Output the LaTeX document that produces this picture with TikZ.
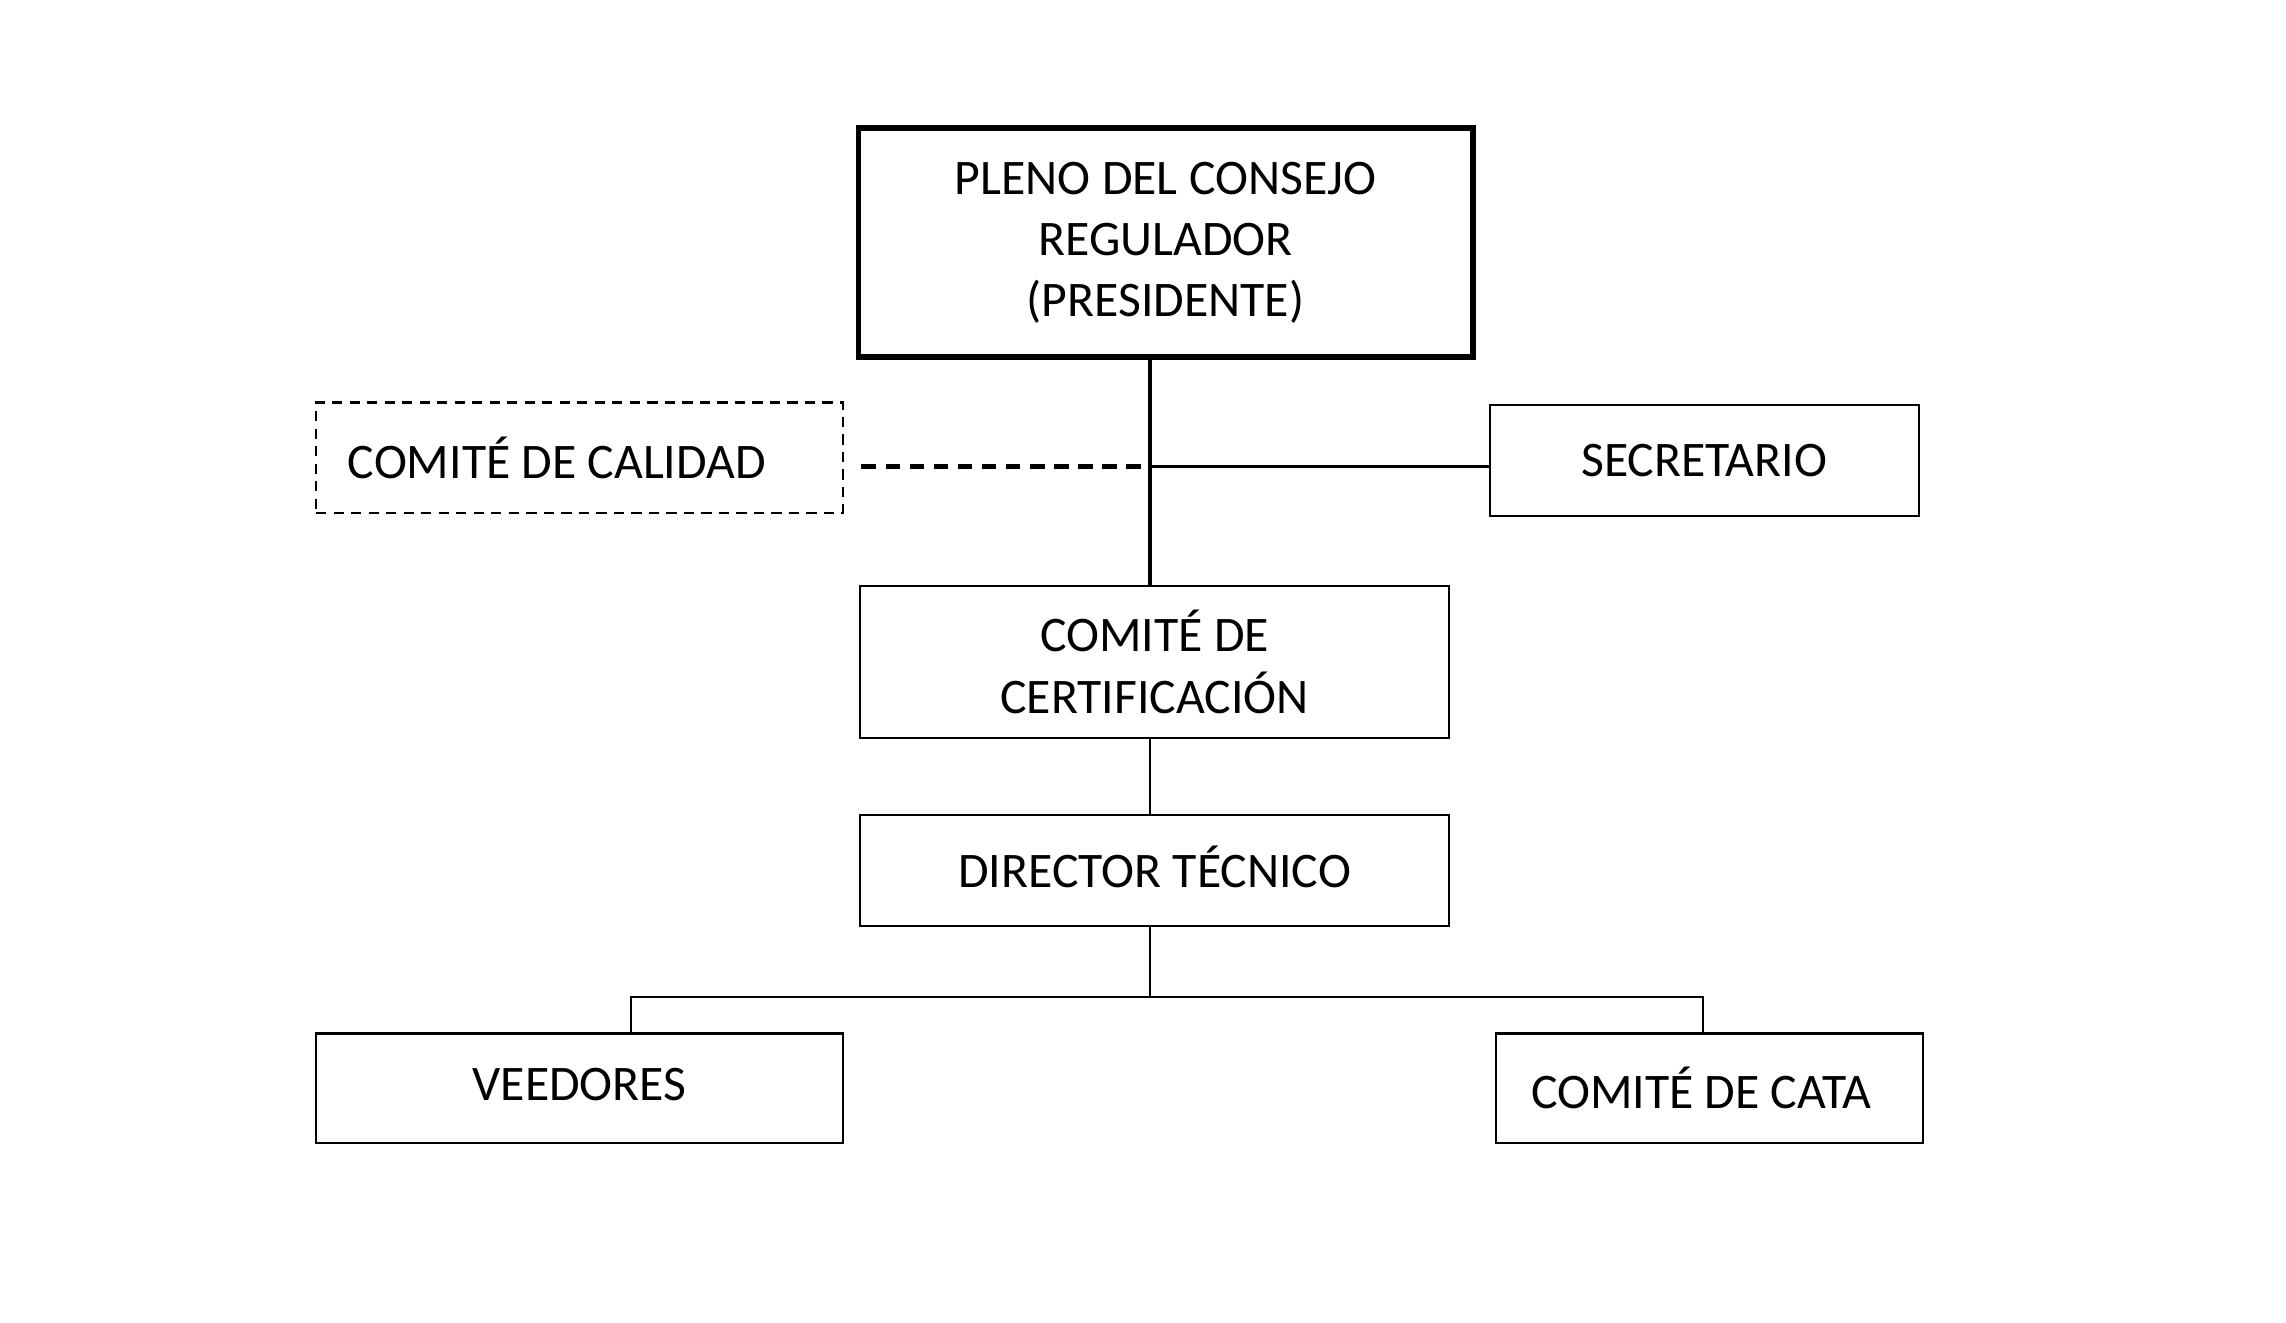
\documentclass[tikz,border=0pt]{standalone}
\usepackage{fontspec}
\setmainfont{Carlito}
\usepackage{tikz}

\begin{document}
\begin{tikzpicture}[x=0.01cm, y=-0.01cm, every node/.style={font=\fontsize{9.7}{11.95}\selectfont},
  box/.style={draw=black, line width=0.45pt, align=center, inner sep=0pt},
  chief/.style={box, line width=1.15pt},
  dashbox/.style={box, dash pattern=on 0.07cm off 0.05cm},
  wire/.style={line width=0.45pt},
  spinewire/.style={line width=0.85pt}]
\useasboundingbox (0,0) rectangle (1568,907.4);
\node[chief, minimum width=4.21cm, minimum height=1.57cm] (pleno) at (799.5,166.5) {PLENO DEL CONSEJO\\REGULADOR\\(PRESIDENTE)};
\node[dashbox, minimum width=3.61cm, minimum height=0.76cm] (calidad) at (397.5,314) {\hspace*{-0.31cm}COMITÉ DE CALIDAD};
\node[box, minimum width=2.94cm, minimum height=0.76cm] (secretario) at (1169,316) {SECRETARIO};
\node[box, minimum width=4.04cm, minimum height=1.04cm] (certif) at (792,454) {COMITÉ DE\\CERTIFICACIÓN};
\node[box, minimum width=4.04cm, minimum height=0.76cm] (director) at (792,597) {\raisebox{0.05cm}{DIRECTOR TÉCNICO}};
\node[box, minimum width=3.61cm, minimum height=0.75cm] (veedores) at (397.5,746.5) {\raisebox{0.05cm}{VEEDORES}};
\node[box, minimum width=2.93cm, minimum height=0.75cm] (cata) at (1172.5,746.5) {\hspace*{-0.11cm}COMITÉ DE CATA};
\coordinate (spine) at (789,320);
\coordinate (fork) at (789,684);
\coordinate (leftdrop) at (433,684);
\coordinate (rightdrop) at (1168,684);
\draw[spinewire] (spine |- pleno.south) -- (spine |- certif.north);
\draw[wire] (spine) -- (secretario.west |- spine);
\draw[spinewire, dash pattern=on 0.1cm off 0.065cm] ([xshift=0.12cm]calidad.east |- spine) -- (spine);
\draw[wire] (fork |- certif.south) -- (fork |- director.north);
\draw[wire] (fork |- director.south) -- (fork);
\draw[wire] (leftdrop |- veedores.north) -- (leftdrop) -- (rightdrop) -- (rightdrop |- cata.north);
\end{tikzpicture}
\end{document}
